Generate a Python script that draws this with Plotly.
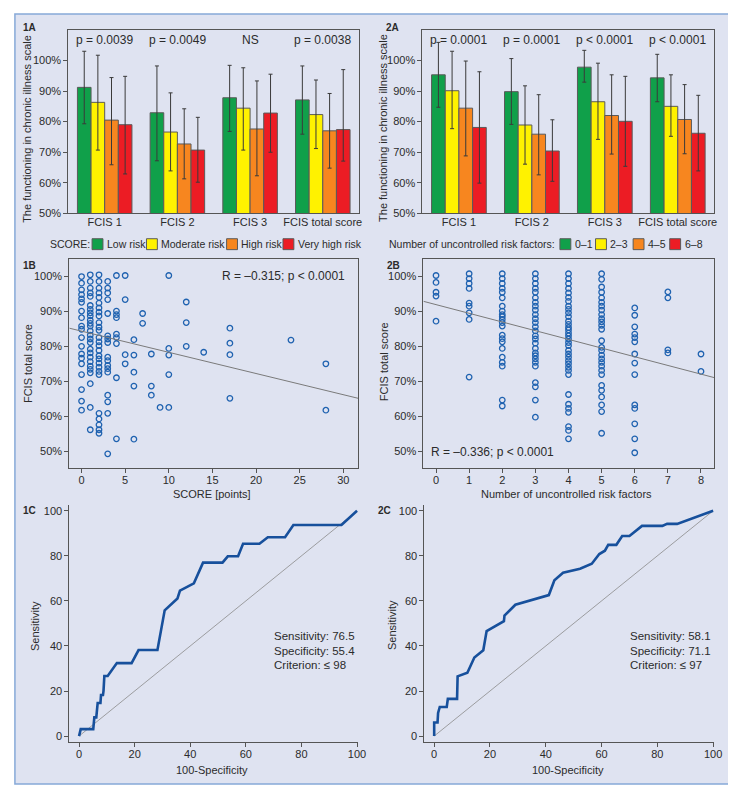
import plotly.graph_objects as go

W, H = 736, 790
FONT = "Liberation Sans, Arial, sans-serif"
TXT = "#2b2b2b"
AX = "#555555"
BG = "#dfe3f1"
BORDER = "#86a9d8"

# ---------------- data ----------------
categories = ["FCIS 1", "FCIS 2", "FCIS 3", "FCIS total score"]

score_groups = ["Low risk", "Moderate risk", "High risk", "Very high risk"]
score_means = [[91.2, 82.9, 87.8, 87.1], [86.3, 76.6, 84.4, 82.3],
               [80.5, 72.7, 77.6, 77.0], [79.0, 70.7, 82.8, 77.4]]
score_err_up = [[11.8, 15.3, 10.6, 11.1], [15.4, 12.8, 13.2, 11.3],
                [13.9, 11.5, 15.7, 12.2], [15.8, 10.7, 12.7, 19.6]]
score_err_down = [[11.9, 15.7, 11.0, 11.2], [15.6, 12.7, 13.7, 11.1],
                  [14.6, 11.4, 15.3, 12.2], [16.1, 10.5, 12.8, 10.3]]
score_p = ["p = 0.0039", "p = 0.0049", "NS", "p = 0.0038"]

risk_groups = ["0\u20131", "2\u20133", "4\u20135", "6\u20138"]
risk_means = [[95.3, 89.8, 97.8, 94.3], [90.1, 78.9, 86.5, 85.0],
              [84.4, 75.9, 82.0, 80.7], [78.1, 70.4, 80.1, 76.2]]
risk_err_up = [[10.6, 10.8, 5.5, 7.7], [12.9, 12.8, 12.6, 10.3],
               [15.4, 12.9, 13.3, 11.4], [18.2, 10.2, 14.7, 12.4]]
risk_err_down = [[10.6, 10.7, 4.9, 7.8], [12.4, 12.8, 12.3, 9.8],
                 [15.6, 13.3, 12.6, 11.2], [18.2, 9.9, 14.7, 12.3]]
risk_p = ["p = 0.0001", "p = 0.0001", "p < 0.0001", "p < 0.0001"]

bar_colors = ["#10a04a", "#fff200", "#f7861f", "#ec1c24"]

# 1B scatter: SCORE points -> FCIS total score (%)
score_scatter = {
    0: [100.0, 98.1, 96.2, 94.8, 93.6, 92.6, 90.1, 88.2, 85.8, 84.9, 82.5, 80.0, 77.8, 76.6, 75.0, 71.9, 67.6, 64.3, 61.7],
    1: [100.5, 98.6, 96.7, 95.3, 94.3, 91.7, 90.6, 89.6, 88.7, 87.5, 86.6, 85.8, 84.4, 83.2, 82.1, 81.1, 79.2, 78.1, 76.9, 75.6, 74.3, 73.4, 72.4, 69.3, 62.5, 56.1],
    2: [100.5, 98.6, 96.7, 95.3, 94.0, 92.4, 91.0, 89.8, 88.7, 86.8, 85.5, 84.6, 82.5, 81.3, 80.2, 78.8, 77.3, 76.4, 75.2, 74.0, 72.8, 71.9, 60.8, 59.2, 57.5, 56.1, 55.1],
    3: [98.6, 96.7, 95.3, 93.4, 89.4, 83.0, 82.1, 81.1, 76.9, 75.9, 74.5, 73.6, 72.6, 66.0, 64.1, 60.8, 49.2],
    4: [100.3, 90.1, 89.1, 88.2, 83.5, 82.5, 80.8, 71.0, 53.5],
    5: [100.3, 93.4, 77.6, 75.0],
    6: [81.9, 77.5, 72.6, 68.6, 53.4],
    7: [89.4, 86.6],
    8: [77.8, 68.6, 66.0],
    9: [62.5],
    10: [100.3, 79.4, 77.5, 71.9, 62.5],
    12: [92.7, 86.8, 80.0],
    14: [78.3],
    17: [85.2, 80.9, 77.6, 65.1],
    24: [81.8],
    28: [75.0, 61.7],
}
score_fit = (84.35, -0.607)  # intercept, slope
score_xrange = [-1.4, 31.7]

# 2B scatter: number of uncontrolled risk factors -> FCIS total score (%)
risk_scatter = {
    0: [100.3, 98.3, 95.5, 94.4, 87.2],
    1: [100.8, 99.4, 98.0, 96.6, 92.4, 91.5, 89.6, 87.7, 71.2],
    2: [100.8, 99.4, 98.0, 96.6, 95.5, 93.9, 91.5, 90.1, 89.1, 88.5, 87.7, 86.8, 85.8, 83.2, 82.2, 81.3, 79.4, 76.9, 75.4, 74.3, 64.6, 62.9],
    3: [100.8, 99.4, 98.0, 96.6, 95.5, 93.9, 92.6, 91.5, 90.4, 89.1, 87.9, 86.8, 85.6, 84.4, 83.0, 82.1, 80.9, 79.4, 78.1, 77.3, 76.4, 75.4, 74.3, 69.6, 68.4, 64.6, 59.7],
    4: [100.8, 99.4, 98.0, 96.6, 95.3, 94.0, 92.9, 91.5, 90.6, 89.6, 88.5, 87.2, 86.3, 85.4, 84.7, 83.8, 83.0, 82.1, 81.1, 80.2, 78.8, 77.8, 76.9, 75.9, 75.0, 74.0, 73.1, 71.9, 66.2, 63.4, 62.2, 61.1, 57.0, 55.9, 53.5],
    5: [100.8, 99.2, 97.0, 95.5, 93.9, 92.6, 91.5, 90.4, 89.1, 87.9, 87.0, 86.0, 84.9, 81.6, 79.7, 78.8, 77.5, 76.4, 75.4, 74.3, 73.1, 71.9, 68.8, 67.4, 65.5, 63.2, 61.3, 55.1],
    6: [91.0, 88.9, 85.6, 83.5, 82.5, 81.3, 77.8, 75.2, 71.9, 63.2, 62.2, 57.8, 53.5, 49.5],
    7: [95.6, 93.9, 79.0, 78.1],
    8: [77.8, 72.8],
}
risk_fit = (91.95, -2.49)
risk_xrange = [-0.38, 8.4]

# ROC curves
roc1_x = [0, 0.3, 0.6, 5.1, 5.5, 6.2, 6.7, 7.7, 7.9, 8.6, 8.8, 9.1, 10.3, 13.6, 18.9, 21.4, 28.2, 30.8, 35.4, 36.3, 41.3, 44.6, 51.6, 53.5, 57.2, 59.0, 64.9, 67.9, 74.1, 77.1, 94.4, 100]
roc1_y = [0, 2.7, 3.1, 3.1, 8.3, 8.3, 14.7, 14.7, 18.2, 18.2, 20.1, 26.7, 26.7, 32.4, 32.4, 38.2, 38.2, 55.8, 61.1, 64.6, 67.8, 77.0, 77.0, 79.8, 79.8, 85.4, 85.4, 88.3, 88.3, 93.7, 93.7, 100]
roc1_text = ["Sensitivity: 76.5", "Specificity: 55.4", "Criterion: \u2264 98"]

roc2_x = [0, 0, 1.2, 1.4, 2.0, 4.5, 4.9, 8.2, 8.4, 11.9, 14.4, 17.6, 18.8, 25.0, 25.2, 29.1, 41.1, 43.1, 46.2, 52.3, 56.5, 59.2, 61.2, 62.4, 65.3, 67.4, 70.0, 74.5, 81.8, 83.5, 87.1, 100]
roc2_y = [0, 6.0, 6.0, 10.3, 12.9, 12.9, 16.5, 16.5, 26.5, 28.1, 34.9, 38.1, 46.6, 51.0, 53.5, 58.3, 62.6, 69.2, 72.5, 74.3, 76.5, 80.8, 82.3, 84.9, 84.9, 88.8, 88.8, 93.3, 93.3, 94.2, 94.2, 100]
roc2_text = ["Sensitivity: 58.1", "Specificity: 71.1", "Criterion: \u2264 97"]

# ---------------- layout helpers ----------------
def px(x):
    return x / W

def py(y):
    return 1 - y / H

def dom_x(a, b):
    return [px(a), px(b)]

def dom_y(top, bottom):
    return [py(bottom), py(top)]

fig = go.Figure()

# ---- bar panels ----
def add_bars(groups, means, up, down, xa, ya):
    for g, m, u, d, c in zip(groups, means, up, down, bar_colors):
        fig.add_trace(go.Bar(
            x=categories, y=m, name=g, marker=dict(color=c, line=dict(color="#5a5a5a", width=1)),
            error_y=dict(type="data", symmetric=False, array=u, arrayminus=d,
                         color="#3a3a3a", thickness=1, width=2),
            xaxis=xa, yaxis=ya, showlegend=False))

add_bars(score_groups, score_means, score_err_up, score_err_down, "x", "y")
add_bars(risk_groups, risk_means, risk_err_up, risk_err_down, "x2", "y2")

# ---- scatter panels ----
def add_scatter(cols, fit, xr, xa, ya):
    xs, ys = [], []
    for k, vals in cols.items():
        xs += [k] * len(vals)
        ys += vals
    fig.add_trace(go.Scatter(x=xs, y=ys, mode="markers",
                             marker=dict(symbol="circle-open", size=5.5, color="#1f62b0", line=dict(width=1.3)),
                             xaxis=xa, yaxis=ya, showlegend=False, cliponaxis=False))
    b0, b1 = fit
    fig.add_trace(go.Scatter(x=xr, y=[b0 + b1 * xr[0], b0 + b1 * xr[1]], mode="lines",
                             line=dict(color="#7a7a7a", width=1), xaxis=xa, yaxis=ya, showlegend=False))

add_scatter(score_scatter, score_fit, score_xrange, "x3", "y3")
add_scatter(risk_scatter, risk_fit, risk_xrange, "x4", "y4")

# ---- ROC panels ----
def add_roc(rx, ry, xa, ya):
    fig.add_trace(go.Scatter(x=[0, 100], y=[0, 100], mode="lines",
                             line=dict(color="#8a8a8a", width=0.8), xaxis=xa, yaxis=ya, showlegend=False))
    fig.add_trace(go.Scatter(x=rx, y=ry, mode="lines",
                             line=dict(color="#17509c", width=2.6), xaxis=xa, yaxis=ya, showlegend=False))

add_roc(roc1_x, roc1_y, "x5", "y5")
add_roc(roc2_x, roc2_y, "x6", "y6")

# ---------------- axes ----------------
tickfont = dict(family=FONT, size=11, color=TXT)
pct_vals = [50, 60, 70, 80, 90, 100]
pct_text = [f"{v}%" for v in pct_vals]

def bar_axes(n, xd, yd):
    sx = "" if n == 1 else str(n)
    return {
        f"xaxis{sx}": dict(domain=xd, anchor=f"y{sx}", showline=True, linecolor=AX, mirror=True,
                           ticks="", tickfont=tickfont, fixedrange=True, ticklabelstandoff=-2),
        f"yaxis{sx}": dict(domain=yd, anchor=f"x{sx}", range=[50, 110], tickvals=pct_vals,
                           ticktext=pct_text, showline=True,
                           linecolor=AX, mirror=True, ticks="outside", ticklen=4, tickcolor=AX,
                           showgrid=False, zeroline=False, tickfont=tickfont),
    }

def scat_axes(n, xd, yd, xr, xt):
    sx = str(n)
    return {
        f"xaxis{sx}": dict(domain=xd, anchor=f"y{sx}", range=xr, tickvals=xt, showline=True, linecolor=AX,
                           mirror=True, ticks="outside", ticklen=4, tickcolor=AX, showgrid=False,
                           zeroline=False, tickfont=tickfont, ticklabelstandoff=-3),
        f"yaxis{sx}": dict(domain=yd, anchor=f"x{sx}", range=[45, 105], tickvals=pct_vals,
                           ticktext=pct_text, showline=True,
                           linecolor=AX, mirror=True, ticks="outside", ticklen=4, tickcolor=AX,
                           showgrid=False, zeroline=False, tickfont=tickfont),
    }

def roc_axes(n, xd, yd):
    sx = str(n)
    tv = [0, 20, 40, 60, 80, 100]
    return {
        f"xaxis{sx}": dict(domain=xd, anchor=f"y{sx}", range=[-3.5, 100.4], tickvals=tv, showline=True,
                           linecolor=AX, ticks="outside", ticklen=4, tickcolor=AX, showgrid=False,
                           zeroline=False, tickfont=tickfont, ticklabelstandoff=-3),
        f"yaxis{sx}": dict(domain=yd, anchor=f"x{sx}", range=[-2.8, 102.5], tickvals=tv, showline=True,
                           linecolor=AX, ticks="outside", ticklen=4, tickcolor=AX, showgrid=False,
                           zeroline=False, tickfont=tickfont),
    }

axes = {}
axes.update(bar_axes(1, dom_x(61, 355), dom_y(22, 207)))
axes.update(bar_axes(2, dom_x(419, 714), dom_y(22, 207)))
axes.update(scat_axes(3, dom_x(62, 354), dom_y(253, 464), score_xrange, [0, 5, 10, 15, 20, 25, 30]))
axes.update(scat_axes(4, dom_x(420, 714), dom_y(253, 464), risk_xrange, list(range(9))))
axes.update(roc_axes(5, dom_x(62, 354), dom_y(501, 740)))
axes.update(roc_axes(6, dom_x(421, 714), dom_y(501, 740)))

# ---------------- annotations & shapes ----------------
ann = []
shapes = []

def text(x, y, s, size=11, xanchor="center", yanchor="middle", angle=0, bold=False, xref="paper", yref="paper"):
    if xref == "paper":
        x = px(x)
    if yref == "paper":
        y = py(y)
    ann.append(dict(x=x, y=y, xref=xref, yref=yref, text=f"<b>{s}</b>" if bold else s, showarrow=False,
                    xanchor=xanchor, yanchor=yanchor, textangle=angle,
                    font=dict(family=FONT, size=size, color=TXT)))

# outer panel background
shapes.append(dict(type="rect", xref="paper", yref="paper", x0=px(7), x1=px(729), y0=py(782), y1=py(6),
                   fillcolor=BG, line=dict(color=BORDER, width=1.5), layer="below"))

# panel labels
for lbl, x, y in [("1A", 22, 20), ("2A", 389, 20), ("1B", 22, 259), ("2B", 390, 259), ("1C", 22, 506), ("2C", 381, 506)]:
    text(x, y, lbl, size=10, bold=True)

# p-values
for c, s in zip(categories, score_p):
    text(c, 106.8, s, size=12, xref="x", yref="y")
for c, s in zip(categories, risk_p):
    text(c, 106.8, s, size=12, xref="x2", yref="y2")

# axis titles
text(19, 122, "The functioning in chronic illness scale", size=11, angle=-90)
text(379, 121, "The functioning in chronic illness scale", size=11, angle=-90)
text(21, 358, "FCIS total score", size=11, angle=-90)
text(380, 356, "FCIS total score", size=11, angle=-90)
text(206, 490, "SCORE [points]", size=11)
text(565, 490, "Number of uncontrolled risk factors", size=11)
text(28, 623, "Sensitivity", size=11, angle=-90)
text(388, 622, "Sensitivity", size=11, angle=-90)
text(206, 768, "100-Specificity", size=11)
text(566, 768, "100-Specificity", size=11)

# correlation texts
text(343, 270, "R = \u20130.315; p < 0.0001", size=12, xanchor="right")
text(426, 447, "R = \u20130.336; p < 0.0001", size=12, xanchor="left")

# ROC stats
for i, s in enumerate(roc1_text):
    text(267, 633 + 14.5 * i, s, size=11.5, xanchor="left")
for i, s in enumerate(roc2_text):
    text(627, 633 + 14.5 * i, s, size=11.5, xanchor="left")

# custom legends (square left edge, label left edge)
def legend(title_x, title, items, ly=238):
    text(title_x, ly, title, size=10.5, xanchor="left")
    for (sx, tx, label), col in zip(items, bar_colors):
        shapes.append(dict(type="rect", xref="paper", yref="paper", x0=px(sx), x1=px(sx + 11),
                           y0=py(ly + 5.5), y1=py(ly - 5.5), fillcolor=col, line=dict(color="#5a5a5a", width=1)))
        text(tx, ly, label, size=10.5, xanchor="left")

legend(40, "SCORE:", [(85, 98, score_groups[0]), (140, 153, score_groups[1]),
                      (221, 234, score_groups[2]), (278, 291, score_groups[3])])
legend(383, "Number of uncontrolled risk factors:", [(558, 571, risk_groups[0]), (594, 607, risk_groups[1]),
                                                    (632, 645, risk_groups[2]), (669, 682, risk_groups[3])])

fig.update_layout(
    width=W, height=H, margin=dict(l=0, r=0, t=0, b=0),
    paper_bgcolor="white", plot_bgcolor="white",
    barmode="group", bargap=0.25, bargroupgap=0,
    font=dict(family=FONT, size=11, color=TXT),
    annotations=ann, shapes=shapes, showlegend=False,
    **axes,
)

fig.write_html("out.html")
